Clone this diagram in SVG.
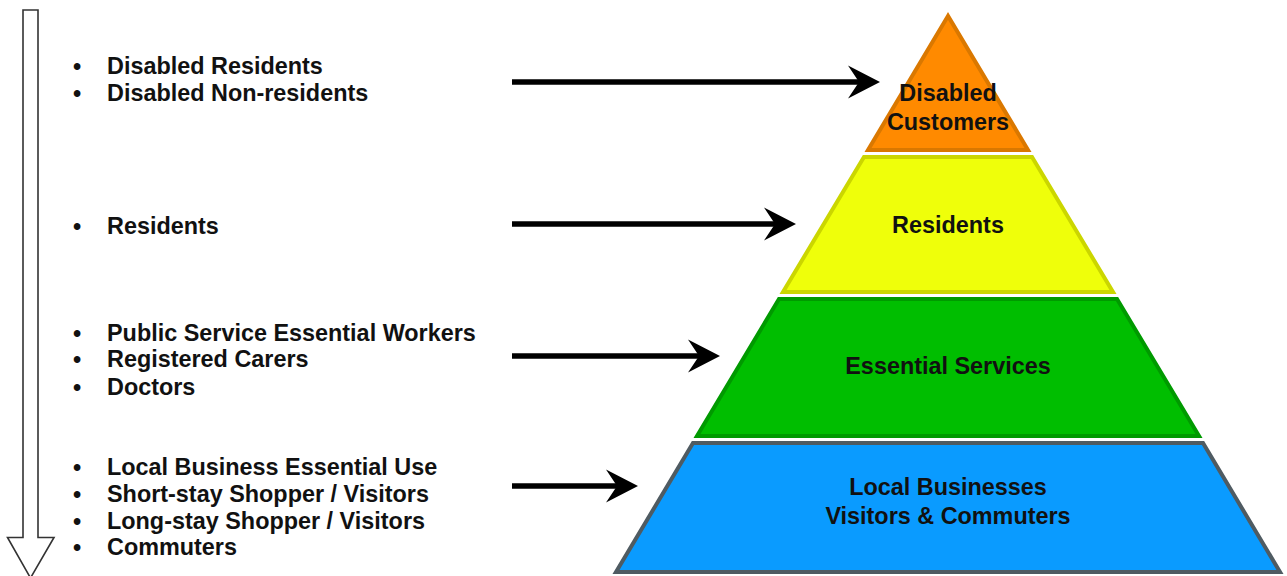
<svg xmlns="http://www.w3.org/2000/svg" width="1287" height="576" viewBox="0 0 1287 576">
  <style>
    .lbl { font-family: "Liberation Sans", Arial, sans-serif; font-weight: bold; font-size: 23.4px; fill: #111; }
    .mid { text-anchor: middle; }
    .tier { stroke-width: 4; stroke-linejoin: miter; }
    .conn { stroke: #000; stroke-width: 5.5; fill: none; marker-end: url(#head); }
  </style>
  <defs>
    <!-- stealth head; the line stops at the notch, the tip sits 21px further on -->
    <marker id="head" markerUnits="userSpaceOnUse" markerWidth="40" markerHeight="40" viewBox="-14 -18 40 36" refX="0" refY="0" orient="auto">
      <path d="M21,0 L-11,-16.5 L0,0 L-11,16.5 Z" fill="#000"/>
    </marker>
  </defs>

  <rect width="1287" height="576" fill="#fff"/>

  <!-- priority direction arrow -->
  <g id="priority-arrow">
    <path d="M23,10 L38,10 L38,537.5 L54,537.5 L30.5,578 L7.5,537.5 L23,537.5 Z" fill="#fff" stroke="#333" stroke-width="1.6" stroke-linejoin="miter"/>
  </g>

  <!-- user group lists -->
  <g id="list-disabled" class="lbl">
    <text x="73" y="74">•</text><text x="107" y="74">Disabled Residents</text>
    <text x="73" y="101">•</text><text x="107" y="101">Disabled Non-residents</text>
  </g>
  <g id="list-residents" class="lbl">
    <text x="73" y="234">•</text><text x="107" y="234">Residents</text>
  </g>
  <g id="list-essential" class="lbl">
    <text x="73" y="341">•</text><text x="107" y="341">Public Service Essential Workers</text>
    <text x="73" y="367">•</text><text x="107" y="367">Registered Carers</text>
    <text x="73" y="395">•</text><text x="107" y="395">Doctors</text>
  </g>
  <g id="list-business" class="lbl">
    <text x="73" y="475">•</text><text x="107" y="475">Local Business Essential Use</text>
    <text x="73" y="502">•</text><text x="107" y="502">Short-stay Shopper / Visitors</text>
    <text x="73" y="529">•</text><text x="107" y="529">Long-stay Shopper / Visitors</text>
    <text x="73" y="555">•</text><text x="107" y="555">Commuters</text>
  </g>

  <!-- pyramid tiers -->
  <g id="tier-disabled">
    <polygon class="tier" points="948,16 868,150 1028,150" fill="#FF8A00" stroke="#DA7800"/>
    <text class="lbl mid" x="948" y="101">Disabled</text>
    <text class="lbl mid" x="948" y="130">Customers</text>
  </g>
  <g id="tier-residents">
    <polygon class="tier" points="864,157 1032,157 1113,292 783,292" fill="#EFFF0A" stroke="#CBD600"/>
    <text class="lbl mid" x="948" y="233">Residents</text>
  </g>
  <g id="tier-essential">
    <polygon class="tier" points="779,299 1117,299 1199,436 697,436" fill="#00BE00" stroke="#009A00"/>
    <text class="lbl mid" x="948" y="374">Essential Services</text>
  </g>
  <g id="tier-business">
    <polygon class="tier" points="693,443 1203,443 1280,572 616,572" fill="#0A9BFF" stroke="#4F5B62"/>
    <text class="lbl mid" x="948" y="495">Local Businesses</text>
    <text class="lbl mid" x="948" y="524">Visitors &amp; Commuters</text>
  </g>

  <!-- connectors from lists to tiers -->
  <g id="connectors">
    <line class="conn" x1="512" y1="82" x2="859" y2="82"/>
    <line class="conn" x1="512" y1="224" x2="775" y2="224"/>
    <line class="conn" x1="512" y1="356" x2="699" y2="356"/>
    <line class="conn" x1="512" y1="486" x2="617" y2="486"/>
  </g>
</svg>
